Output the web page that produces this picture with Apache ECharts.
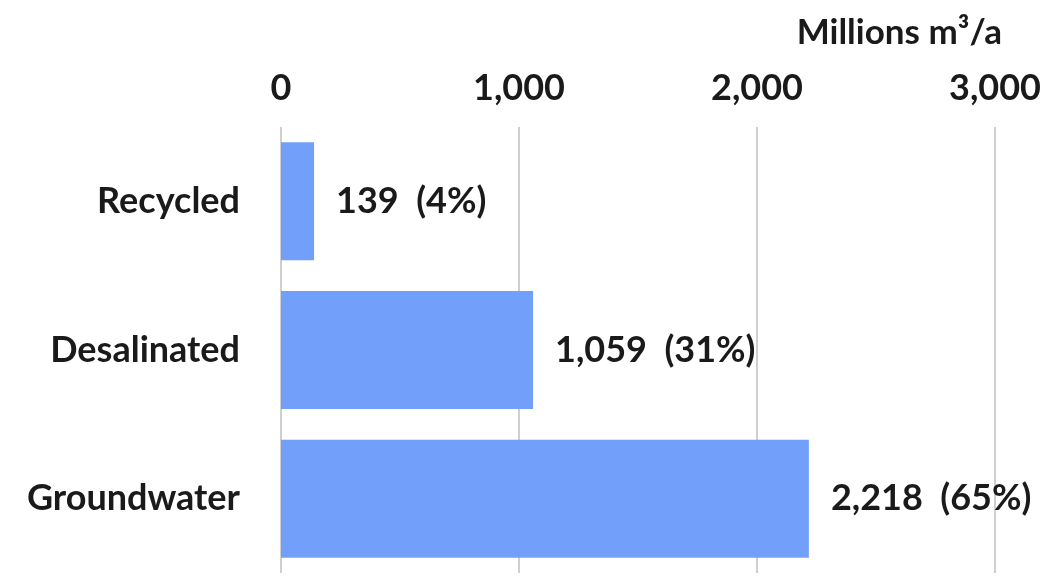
<!DOCTYPE html>
<html>
<head>
<meta charset="utf-8">
<script src="https://cdn.jsdelivr.net/npm/echarts@6/dist/echarts.min.js"></script>
<style>
html,body{margin:0;padding:0;background:#fff;}
#chart{width:1053px;height:577px;}
</style>
</head>
<body>
<div id="chart"></div>
<script>
var categories = ["Recycled", "Desalinated", "Groundwater"];
var values = [139, 1059, 2218];
var percents = [4, 31, 65];
var axisTitle = "Millions m³/a";

function fmt(n) { return n.toLocaleString('en-US'); }

var chart = echarts.init(document.getElementById('chart'), null, {renderer: 'canvas'});
var font = 'Lato, "Open Sans", sans-serif';
chart.setOption({
  animation: false,
  backgroundColor: '#ffffff',
  title: {
    text: axisTitle,
    right: 46,
    top: 10,
    textStyle: {fontFamily: font, fontWeight: 'bold', fontSize: 35, color: '#1a1a1a'}
  },
  grid: {left: 281, right: 58, top: 127, bottom: 4, containLabel: false},
  xAxis: {
    type: 'value',
    position: 'top',
    min: 0, max: 3000, interval: 1000,
    axisLine: {show: false},
    axisTick: {show: false},
    axisLabel: {
      margin: 21,
      formatter: function (v) { return fmt(v); },
      fontFamily: font, fontWeight: 'bold', fontSize: 36, color: '#1a1a1a'
    },
    splitLine: {show: true, lineStyle: {color: '#cfcfcf', width: 2}}
  },
  yAxis: {
    type: 'category',
    data: categories,
    inverse: true,
    axisLine: {show: false},
    axisTick: {show: false},
    axisLabel: {
      margin: 41,
      padding: [8, 0, 0, 0],
      fontFamily: font, fontWeight: 'bold', fontSize: 36, color: '#1a1a1a'
    }
  },
  series: [{
    type: 'bar',
    data: values,
    barWidth: 118,
    itemStyle: {color: '#729ffa'},
    label: {
      show: true,
      position: 'right',
      distance: 22,
      padding: [8, 0, 0, 0],
      formatter: function (p) { return fmt(values[p.dataIndex]) + '  (' + percents[p.dataIndex] + '%)'; },
      fontFamily: font, fontWeight: 'bold', fontSize: 36, color: '#1a1a1a'
    }
  }]
});
</script>
</body>
</html>
